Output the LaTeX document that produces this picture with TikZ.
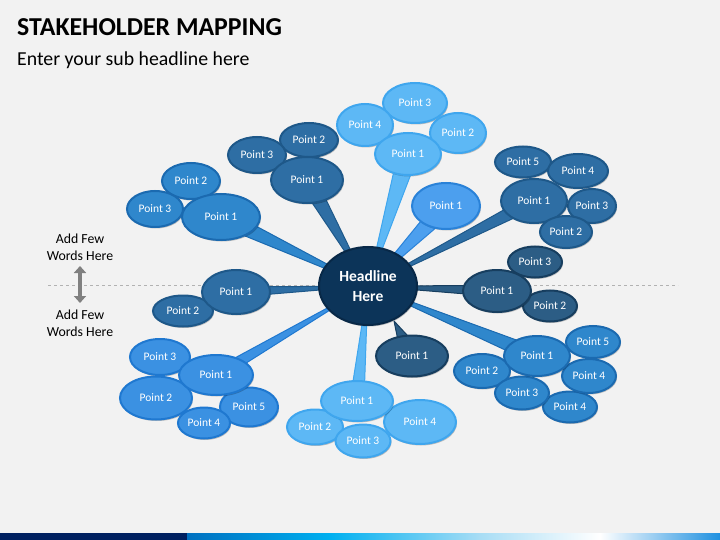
\documentclass[tikz,border=0pt]{standalone}
\usepackage{fontspec}
\setmainfont{Carlito}
\usetikzlibrary{shapes.geometric,calc,shadows,arrows.meta}
\definecolor{bgc}{HTML}{F2F2F2}
\definecolor{cmed}{HTML}{2F87CC}\definecolor{cmedD}{HTML}{1B6AB0}
\definecolor{csteel}{HTML}{2E6EA4}\definecolor{csteelD}{HTML}{1E5889}
\definecolor{clight}{HTML}{5DB8F5}\definecolor{clightD}{HTML}{3FA6EE}
\definecolor{cbright}{HTML}{4C9FEE}\definecolor{cbrightD}{HTML}{2A82D8}
\definecolor{cslate}{HTML}{2C5D85}\definecolor{cslateD}{HTML}{173E5F}
\definecolor{cbl}{HTML}{3B91E2}\definecolor{cblD}{HTML}{1F78D0}
\definecolor{cnavy}{HTML}{0C3459}\definecolor{cnavyD}{HTML}{082847}
\definecolor{barnavy}{HTML}{002060}
\definecolor{bar1}{HTML}{0070C0}\definecolor{bar2}{HTML}{00B0F0}
\definecolor{bar3}{HTML}{A8DDF5}\definecolor{bar4}{HTML}{FFFFFF}
\definecolor{bar5}{HTML}{1E90E0}
\newcommand\calltail[4]{%
  \filldraw[fill=#4,draw=#4D,line width=1pt,line join=round]
    ($(#1)!#3pt!90:(#2)$) -- (#2) -- ($(#1)!#3pt!-90:(#2)$) -- cycle;}
\tikzset{
  sz/.style 2 args={minimum width=#1pt,minimum height=#2pt},
  bub/.style={ellipse,draw,line width=2pt,inner sep=0pt,text=white,
    font=\fontsize{11.5}{13}\selectfont,
    drop shadow={shadow xshift=1pt,shadow yshift=-1.5pt,opacity=0.22,fill=black}},
  med/.style={bub,fill=cmed,draw=cmedD},
  steel/.style={bub,fill=csteel,draw=csteelD},
  light/.style={bub,fill=clight,draw=clightD},
  bright/.style={bub,fill=cbright,draw=cbrightD},
  slate/.style={bub,fill=cslate,draw=cslateD},
  bl/.style={bub,fill=cbl,draw=cblD},
  side/.style={align=center,font=\fontsize{13.8}{17}\selectfont,text=black},
}
\begin{document}
\begin{tikzpicture}[x=1pt,y=-1pt]
\useasboundingbox (0,0) rectangle (720,540);
\fill[bgc] (0,0) rectangle (720,540);
% bottom bar
\fill[barnavy] (0,533) rectangle (187,540);
\shade[left color=bar1,right color=bar2] (187,533) rectangle (330,540);
\shade[left color=bar2,right color=bar3] (330,533) rectangle (480,540);
\shade[left color=bar3,right color=bar4] (480,533) rectangle (600,540);
\shade[left color=bar4,right color=bar5] (600,533) rectangle (720,540);
% title
\node[anchor=base west,inner sep=0pt,font=\fontsize{25.8}{30}\selectfont\bfseries] (title) at (17,36) {STAKEHOLDER MAPPING};
\node[anchor=base west,inner sep=0pt,font=\fontsize{19.8}{23}\selectfont] (sub) at (17,66) {Enter your sub headline here};
% dashed divider
\coordinate (dl) at (48,285);
\coordinate (dr) at (678,285);
\draw[black!30,dashed,line width=0.8pt] (dl) -- (dr);
% side texts
\node[side] (up) at (80,247) {Add Few\\Words Here};
\node[side] (dn) at (80,323) {Add Few\\Words Here};
\coordinate (aT) at (80,266);
\coordinate (aB) at (80,303);
\draw[black!50,line width=4.5pt,{Triangle[width=12pt,length=7pt]}-{Triangle[width=12pt,length=7pt]}] (aT) -- (aB);
% headline centre
\coordinate (hlc) at (368,286);
% cluster 1
\node[med,sz={58}{36}] (c1b) at (191,181) {Point 2};
\node[med,sz={56}{36}] (c1c) at (155,209) {Point 3};
\coordinate (c1) at (221,217);
\calltail{c1}{hlc}{8.5}{cmed}
\node[med,sz={78}{46}] (c1a) at (c1) {Point 1};
% cluster 2
\node[steel,sz={58}{34}] (c2b) at (309,140) {Point 2};
\node[steel,sz={58}{36}] (c2c) at (257,155) {Point 3};
\coordinate (c2) at (307,180);
\calltail{c2}{hlc}{8.5}{csteel}
\node[steel,sz={72}{46}] (c2a) at (c2) {Point 1};
% cluster 3
\node[light,sz={64}{40}] (c3c) at (415,103) {Point 3};
\node[light,sz={56}{42}] (c3d) at (365,125) {Point 4};
\node[light,sz={56}{40}] (c3b) at (458,133) {Point 2};
\coordinate (c3) at (408,154);
\calltail{c3}{hlc}{10}{clight}
\node[light,sz={66}{42}] (c3a) at (c3) {Point 1};
% cluster 4
\coordinate (c4) at (446,206);
\calltail{c4}{hlc}{10}{cbright}
\node[bright,sz={68}{46}] (c4a) at (c4) {Point 1};
% cluster 5
\node[steel,sz={56}{31}] (c5e) at (523,162) {Point 5};
\node[steel,sz={60}{34}] (c5d) at (578,171) {Point 4};
\node[steel,sz={48}{34}] (c5c) at (592,206) {Point 3};
\coordinate (c5) at (534,201);
\calltail{c5}{hlc}{7}{csteel}
\node[steel,sz={66}{44}] (c5a) at (c5) {Point 1};
\node[steel,sz={52}{32}] (c5b) at (566,232) {Point 2};
% cluster 6
\node[slate,sz={54}{31}] (c6c) at (535,262) {Point 3};
\node[slate,sz={54}{31}] (c6b) at (550,306) {Point 2};
\coordinate (c6) at (497,291);
\calltail{c6}{hlc}{5.5}{cslate}
\node[slate,sz={68}{42}] (c6a) at (c6) {Point 1};
% cluster 7
\node[med,sz={54}{32}] (c7e) at (593,342) {Point 5};
\node[med,sz={56}{34}] (c7b) at (482,371) {Point 2};
\node[med,sz={54}{31}] (c7f) at (570,407) {Point 4};
\node[med,sz={54}{33}] (c7c) at (522,393) {Point 3};
\node[med,sz={54}{34}] (c7d) at (589,376) {Point 4};
\coordinate (c7) at (537,356);
\calltail{c7}{hlc}{8}{cmed}
\node[med,sz={66}{40}] (c7a) at (c7) {Point 1};
% cluster 8
\coordinate (c8) at (412,356);
\coordinate (c8tip) at (394,321);
\calltail{c8}{c8tip}{11}{cslate}
\node[slate,sz={72}{41}] (c8a) at (c8) {Point 1};
% cluster 9
\node[light,sz={56}{35}] (c9b) at (315,427) {Point 2};
\node[light,sz={72}{44}] (c9d) at (420,422) {Point 4};
\node[light,sz={55}{33}] (c9c) at (363,441) {Point 3};
\coordinate (c9) at (357,401);
\calltail{c9}{hlc}{7}{clight}
\node[light,sz={72}{40}] (c9a) at (c9) {Point 1};
% cluster 10
\node[bl,sz={60}{36}] (c10c) at (160,357) {Point 3};
\node[bl,sz={72}{43}] (c10b) at (156,398) {Point 2};
\node[bl,sz={58}{39}] (c10e) at (249,407) {Point 5};
\node[bl,sz={52}{31}] (c10d) at (204,423) {Point 4};
\coordinate (c10) at (216,375);
\calltail{c10}{hlc}{6}{cbl}
\node[bl,sz={74}{40}] (c10a) at (c10) {Point 1};
% cluster 11
\node[steel,sz={60}{31}] (c11b) at (183,311) {Point 2};
\coordinate (c11) at (236,292);
\calltail{c11}{hlc}{5}{csteel}
\node[steel,sz={68}{44}] (c11a) at (c11) {Point 1};
% headline
\node[bub,fill=cnavy,draw=cnavyD,sz={98}{78},align=center,
  font=\fontsize{15.5}{20}\selectfont\bfseries] (hl) at (hlc) {Headline\\Here};
\end{tikzpicture}
\end{document}
